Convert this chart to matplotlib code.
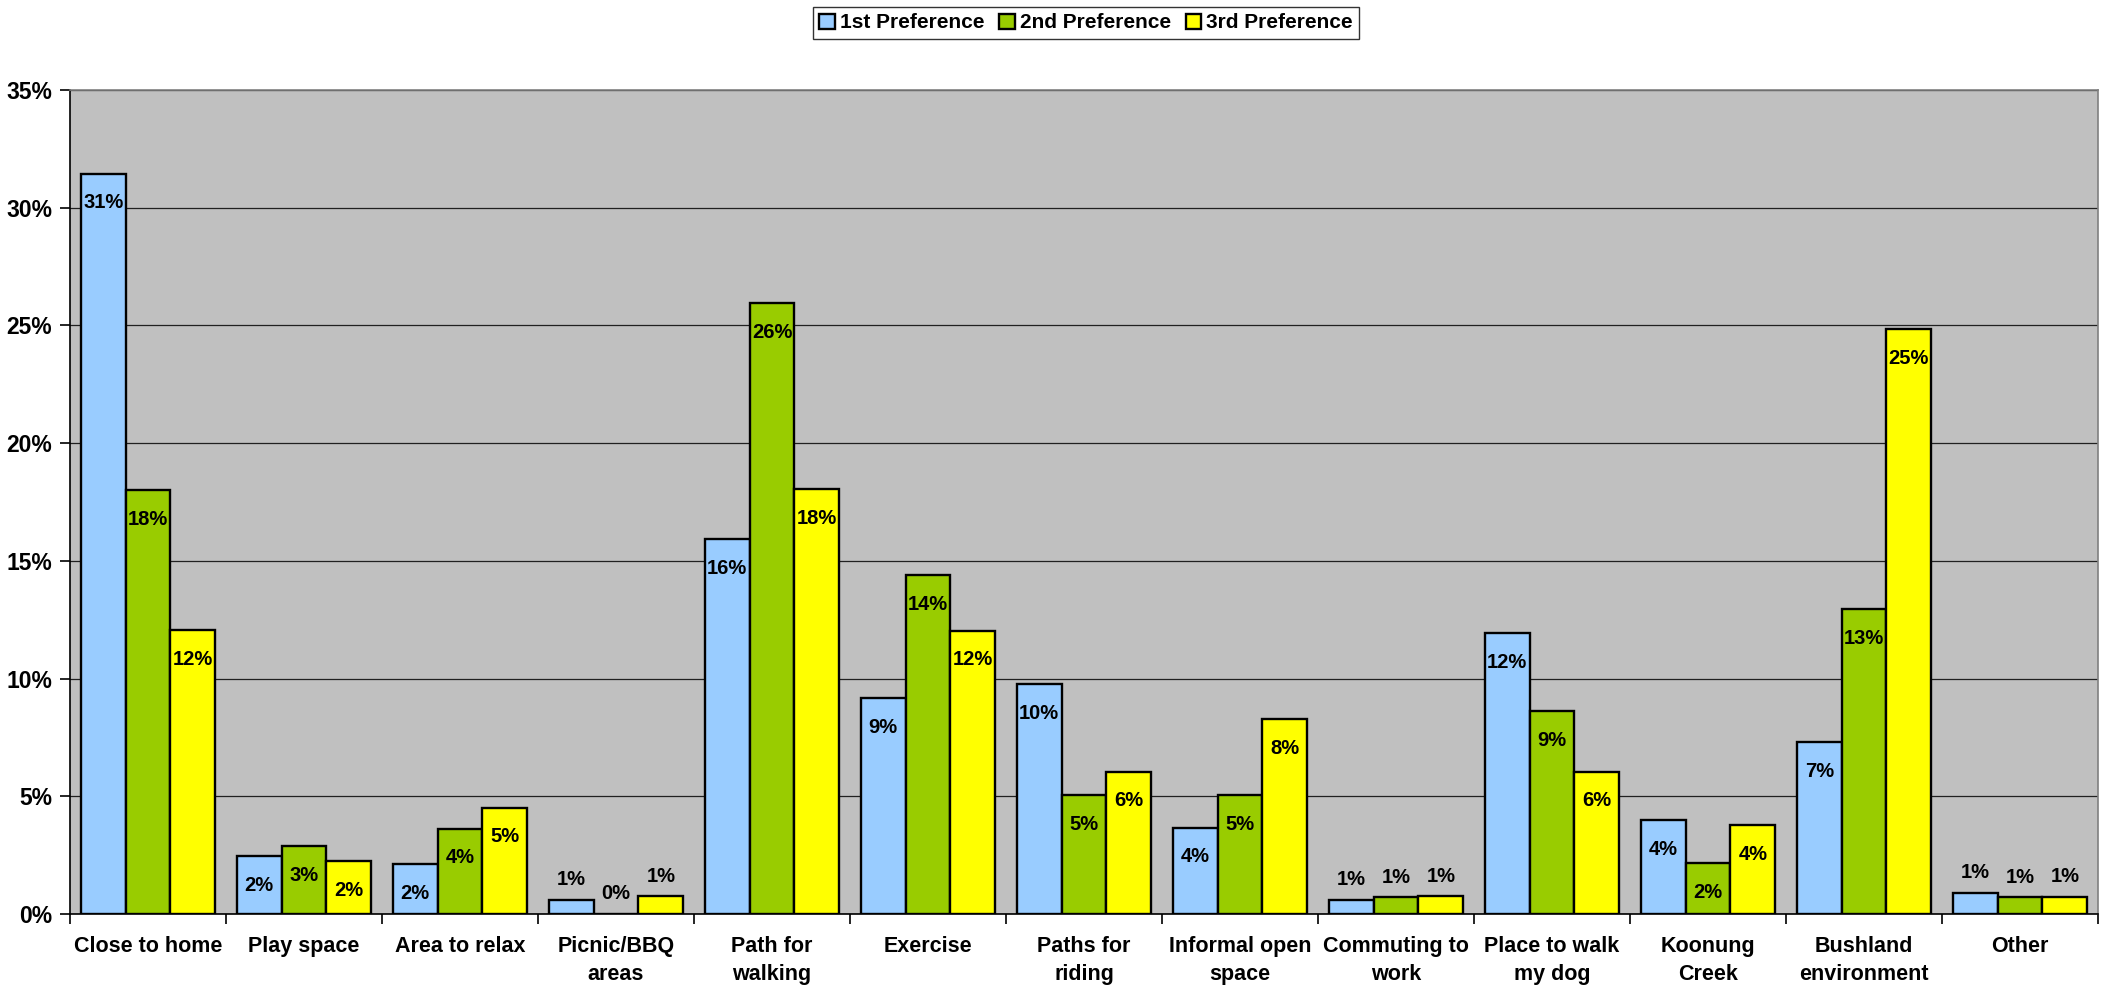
import matplotlib
matplotlib.use("Agg")
import matplotlib.pyplot as plt
import numpy as np
from matplotlib.ticker import FixedLocator, PercentFormatter

categories = [
    "Close to home", "Play space", "Area to relax", "Picnic/BBQ\nareas",
    "Path for\nwalking", "Exercise", "Paths for\nriding", "Informal open\nspace",
    "Commuting to\nwork", "Place to walk\nmy dog", "Koonung\nCreek",
    "Bushland\nenvironment", "Other",
]
series_names = ["1st Preference", "2nd Preference", "3rd Preference"]
first_pref = [31.45, 2.45, 2.13, 0.60, 15.92, 9.18, 9.77, 3.67, 0.60, 11.94, 3.99, 7.31, 0.90]
second_pref = [18.00, 2.89, 3.62, 0.00, 25.95, 14.39, 5.05, 5.05, 0.71, 8.61, 2.15, 12.95, 0.71]
third_pref = [12.05, 2.25, 4.52, 0.75, 18.05, 12.04, 6.04, 8.28, 0.75, 6.04, 3.76, 24.83, 0.74]
y_ticks = [0, 5, 10, 15, 20, 25, 30, 35]

colors = ["#99CCFF", "#99CC00", "#FFFF00"]

plt.rcParams["font.family"] = ["Liberation Sans", "DejaVu Sans"]
plt.rcParams["font.weight"] = "bold"

fig = plt.figure(figsize=(21.09, 9.88), dpi=100)
ax = fig.add_axes([70 / 2109, 1 - 914 / 988, (2098 - 70) / 2109, (914 - 90) / 988])
ax.set_facecolor("#C0C0C0")

n = len(categories)
x = np.arange(n)
bar_w = 0.287
series = [first_pref, second_pref, third_pref]

for i, (vals, col, name) in enumerate(zip(series, colors, series_names)):
    offs = (i - 1) * bar_w
    ax.bar(x + offs, vals, width=bar_w, color=col, edgecolor="black",
           linewidth=1.7, label=name, zorder=3)
    for xi, v in zip(x + offs, vals):
        txt = f"{v:.0f}%"
        if v < 1.5:
            ax.annotate(txt, (xi, v), xytext=(0, 14.5), textcoords="offset points",
                        ha="center", va="center", fontsize=14.5, fontweight="bold",
                        zorder=4)
        else:
            ax.annotate(txt, (xi, v), xytext=(0, -21), textcoords="offset points",
                        ha="center", va="center", fontsize=14.5, fontweight="bold",
                        zorder=4)

ax.set_xlim(-0.5, n - 0.5)
ax.set_ylim(0, 35)
ax.yaxis.set_major_locator(FixedLocator(y_ticks))
ax.yaxis.set_major_formatter(PercentFormatter(decimals=0))
ax.grid(axis="y", color="#202020", linewidth=0.9, zorder=1)
ax.set_axisbelow(True)

ax.set_xticks(x)
ax.set_xticklabels(categories, fontsize=15.5, fontweight="bold", linespacing=1.45)
ax.set_xticks(np.arange(n + 1) - 0.5, minor=True)
ax.tick_params(axis="x", which="major", length=0, pad=16)
ax.tick_params(axis="x", which="minor", length=7, width=1.2, color="black", direction="out")
ax.tick_params(axis="y", which="major", length=7, width=1.2, pad=6, labelsize=16.5)
for lab in ax.get_yticklabels():
    lab.set_fontweight("bold")

for side in ["top", "right"]:
    ax.spines[side].set_color("#808080")
    ax.spines[side].set_linewidth(1.2)
for side in ["left", "bottom"]:
    ax.spines[side].set_color("black")
    ax.spines[side].set_linewidth(1.2)

leg = fig.legend(loc="center", bbox_to_anchor=(1086 / 2109, 1 - 23 / 988), ncol=3,
                 frameon=True, fancybox=False, shadow=False, fontsize=15,
                 handlelength=0.75, handleheight=0.75, handletextpad=0.25,
                 columnspacing=0.7, borderpad=0.3, borderaxespad=0)
leg.get_frame().set_edgecolor("black")
leg.get_frame().set_linewidth(1.0)
for t in leg.get_texts():
    t.set_fontweight("bold")

fig.savefig("out.png", dpi=100, facecolor="white")
